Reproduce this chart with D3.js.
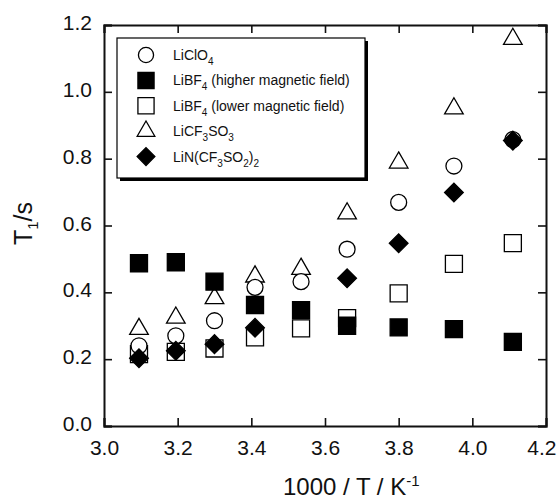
<!DOCTYPE html>
<html>
<head>
<meta charset="utf-8">
<script src="https://cdn.jsdelivr.net/npm/d3@7/dist/d3.min.js"></script>
<style>
  html, body { margin: 0; padding: 0; background: #fff; }
  svg { display: block; font-family: "Liberation Sans", Arial, sans-serif; }
</style>
</head>
<body>
<div id="container"></div>
<script>
// data
const invTemp = [3.095, 3.195, 3.30, 3.41, 3.535, 3.66, 3.80, 3.95, 4.11];
const liClO4 = [0.24, 0.27, 0.315, 0.415, 0.432, 0.529, 0.669, 0.778, 0.857];
const liBF4High = [0.487, 0.49, 0.432, 0.362, 0.347, 0.30, 0.295, 0.29, 0.252];
const liBF4Low = [0.215, 0.222, 0.232, 0.265, 0.292, 0.323, 0.397, 0.485, 0.547];
const liCF3SO3 = [0.29, 0.324, 0.382, 0.447, 0.47, 0.636, 0.788, 0.95, 1.158];
const liTFSI = [0.203, 0.225, 0.245, 0.294, null, 0.442, 0.547, 0.699, 0.854];
const xTicks = [3.0, 3.2, 3.4, 3.6, 3.8, 4.0, 4.2];
const yTicks = [0.0, 0.2, 0.4, 0.6, 0.8, 1.0, 1.2];

// series definitions (drawing order, back to front)
const series = [
  { key: 'bf4low', values: liBF4Low, shape: 'square', fill: '#fff' },
  { key: 'cf3so3', values: liCF3SO3, shape: 'triangle', fill: '#fff' },
  { key: 'clo4', values: liClO4, shape: 'circle', fill: '#fff' },
  { key: 'bf4high', values: liBF4High, shape: 'square', fill: '#000' },
  { key: 'tfsi', values: liTFSI, shape: 'diamond', fill: '#000' }
];

// legend rows: marker + text parts ([text, 'sub'] for subscripts)
const legendRows = [
  { shape: 'circle', fill: '#fff', parts: [['LiClO'], ['4', 'sub']] },
  { shape: 'square', fill: '#000', parts: [['LiBF'], ['4', 'sub'], [' (higher magnetic field)']] },
  { shape: 'square', fill: '#fff', parts: [['LiBF'], ['4', 'sub'], [' (lower magnetic field)']] },
  { shape: 'triangle', fill: '#fff', parts: [['LiCF'], ['3', 'sub'], ['SO'], ['3', 'sub']] },
  { shape: 'diamond', fill: '#000', parts: [['LiN(CF'], ['3', 'sub'], ['SO'], ['2', 'sub'], [')'], ['2', 'sub']] }
];

const W = 560, H = 502;
const margin = { top: 25, right: 14, bottom: 76, left: 104 };

const svg = d3.select('#container')
  .append('svg')
  .attr('width', W)
  .attr('height', H);

const x = d3.scaleLinear().domain([3.0, 4.2]).range([margin.left, W - margin.right]);
const y = d3.scaleLinear().domain([0, 1.2]).range([H - margin.bottom, margin.top]);

// marker paths
const symbolFor = (shape, scale = 1) => {
  if (shape === 'square') return d3.symbol(d3.symbolSquare, 290 * scale)();
  if (shape === 'circle') return d3.symbol(d3.symbolCircle, 200 * scale)();
  if (shape === 'triangle') return d3.symbol(d3.symbolTriangle, 150 * scale)();
  return d3.symbol(d3.symbolSquare, 175 * scale)(); // rotated later -> diamond
};

const drawMarker = (g, shape, fill, scale) => {
  g.append('path')
    .attr('d', symbolFor(shape, scale))
    .attr('transform', shape === 'diamond' ? 'rotate(45)' : null)
    .attr('fill', fill)
    .attr('stroke', '#000')
    .attr('stroke-width', 1.3);
};

// axes (ticks point inward, mirrored on top and right)
const tickFont = '21px';
const axisColor = '#111';

const xBottom = svg.append('g')
  .attr('transform', `translate(0,${y(0)})`)
  .call(d3.axisBottom(x).tickValues(xTicks).tickSize(-8).tickPadding(14).tickFormat(d3.format('.1f')));
const yLeft = svg.append('g')
  .attr('transform', `translate(${x(3.0)},0)`)
  .call(d3.axisLeft(y).tickValues(yTicks).tickSize(-8).tickPadding(12).tickFormat(d3.format('.1f')));
const xTop = svg.append('g')
  .attr('transform', `translate(0,${y(1.2)})`)
  .call(d3.axisTop(x).tickValues(xTicks).tickSize(-8).tickFormat(''));
const yRight = svg.append('g')
  .attr('transform', `translate(${x(4.2)},0)`)
  .call(d3.axisRight(y).tickValues(yTicks).tickSize(-8).tickFormat(''));

[xBottom, yLeft, xTop, yRight].forEach(a => {
  a.select('.domain').attr('stroke', axisColor).attr('stroke-width', 2);
  a.selectAll('.tick line').attr('stroke', axisColor).attr('stroke-width', 1.6);
  a.selectAll('.tick text')
    .attr('fill', axisColor)
    .style('font-size', tickFont)
    .style('font-family', '"Liberation Sans", Arial, sans-serif');
});
yLeft.selectAll('.tick text').attr('dy', '0.22em');
// last x label sits against the page edge, as in the original
xBottom.selectAll('.tick text').filter(d => d === 4.2).attr('text-anchor', 'end').attr('dx', 10);

// data points
series.forEach(s => {
  const pts = invTemp.map((t, i) => ({ t, v: s.values[i] })).filter(d => d.v != null);
  svg.append('g')
    .attr('class', s.key)
    .selectAll('g')
    .data(pts)
    .join('g')
    .attr('transform', d => `translate(${x(d.t)},${y(d.v)})`)
    .each(function () { drawMarker(d3.select(this), s.shape, s.fill, 1); });
});

// legend box with shadow
const lg = { x: 117, y: 38, w: 248, h: 140 };
svg.append('rect')
  .attr('x', lg.x + 3).attr('y', lg.y + 3)
  .attr('width', lg.w).attr('height', lg.h)
  .attr('fill', '#000');
svg.append('rect')
  .attr('x', lg.x).attr('y', lg.y)
  .attr('width', lg.w).attr('height', lg.h)
  .attr('fill', '#fff')
  .attr('stroke', '#000')
  .attr('stroke-width', 1.2);

const rowY = i => 55 + i * 25.4;
legendRows.forEach((row, i) => {
  const g = svg.append('g').attr('transform', `translate(146,${rowY(i)})`);
  drawMarker(g, row.shape, row.fill, 0.9);
  const txt = svg.append('text')
    .attr('x', 173)
    .attr('y', rowY(i) + 5)
    .attr('fill', '#111')
    .style('font-size', '14px');
  let shift = 0;
  row.parts.forEach(([t, kind]) => {
    const target = kind === 'sub' ? 5 : 0;
    txt.append('tspan')
      .attr('dy', target - shift)
      .style('font-size', kind === 'sub' ? '10px' : null)
      .text(t);
    shift = target;
  });
});

// axis titles
const xTitle = svg.append('text')
  .attr('x', 283)
  .attr('y', 495)
  .attr('fill', '#111')
  .style('font-size', '24px');
xTitle.append('tspan').text('1000 / T / K');
xTitle.append('tspan').attr('dy', -9).style('font-size', '15px').text('-1');

const yTitle = svg.append('text')
  .attr('transform', 'translate(32,245) rotate(-90)')
  .attr('fill', '#111')
  .style('font-size', '25px');
yTitle.append('tspan').text('T');
yTitle.append('tspan').attr('dy', 6).style('font-size', '15px').text('1');
yTitle.append('tspan').attr('dy', -6).text('/s');
</script>
</body>
</html>
